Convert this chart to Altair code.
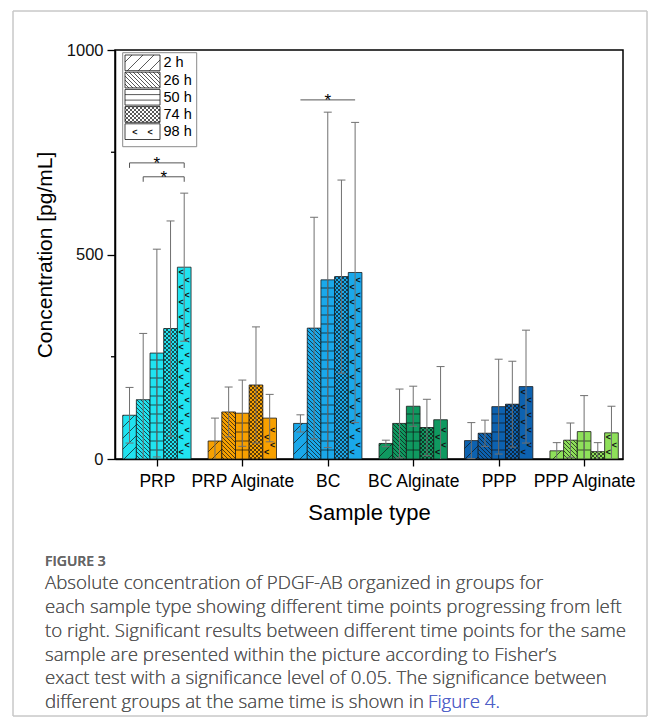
import json
import math
import altair as alt
import pandas as pd

# ---------------- data ----------------
groups = ["PRP", "PRP Alginate", "BC", "BC Alginate", "PPP", "PPP Alginate"]
times = ["2 h", "26 h", "50 h", "74 h", "98 h"]
colors = ["#20E3F0", "#F7A000", "#1AA8EA", "#0F9960", "#0D62B0", "#8EE05A"]

mean_prp = [107, 145, 259, 319, 469]
mean_prp_alg = [44, 115, 112, 181, 100]
mean_bc = [87, 320, 438, 446, 456]
mean_bc_alg = [38, 87, 129, 77, 96]
mean_ppp = [45, 63, 128, 134, 177]
mean_ppp_alg = [20, 46, 67, 18, 64]

sd_prp = [68, 162, 254, 263, 181]
sd_prp_alg = [56, 61, 81, 142, 58]
sd_bc = [21, 271, 410, 236, 367]
sd_bc_alg = [8, 84, 49, 69, 130]
sd_ppp = [44, 32, 116, 105, 138]
sd_ppp_alg = [20, 42, 88, 22, 65]

# significance brackets: group, from time, to time, level
sig_group = ["PRP", "PRP", "BC"]
sig_from = ["2 h", "26 h", "2 h"]
sig_to = ["98 h", "98 h", "98 h"]
sig_level = [724, 690, 878]
sig_ticks = [True, True, False]

caption_head = "FIGURE 3"
caption_lines = [
    "Absolute concentration of PDGF-AB organized in groups for",
    "each sample type showing different time points progressing from left",
    "to right. Significant results between different time points for the same",
    "sample are presented within the picture according to Fisher\u2019s",
    "exact test with a significance level of 0.05. The significance between",
    "different groups at the same time is shown in",
]
caption_link = "Figure 4"

means = [mean_prp, mean_prp_alg, mean_bc, mean_bc_alg, mean_ppp, mean_ppp_alg]
sds = [sd_prp, sd_prp_alg, sd_bc, sd_bc_alg, sd_ppp, sd_ppp_alg]

# ---------------- geometry ----------------
W, H = 508, 409
XMIN, XMAX = -0.49, 5.455
YMAX = 1000
PPX = W / (XMAX - XMIN)
PPY = H / YMAX
BW = 0.16
FONT = "Liberation Sans"
CFONT = "Open Sans"


def dx(px):
    return XMIN + px / PPX


def dy(py):
    return (H - py) / PPY


def xpx(x):
    return (x - XMIN) * PPX


def ypx(v):
    return H - v * PPY


def diag(px0, px1, py0, py1, s, direction):
    segs = []
    if direction == "/":
        c = math.ceil((px0 + py0) / s) * s
        while c <= px1 + py1:
            xa, xb = max(px0, c - py1), min(px1, c - py0)
            if xb - xa > 0.3:
                segs.append((xa, c - xa, xb, c - xb))
            c += s
    else:
        c = math.ceil((px0 - py1) / s) * s
        while c <= px1 - py0:
            xa, xb = max(px0, py0 + c), min(px1, py1 + c)
            if xb - xa > 0.3:
                segs.append((xa, xa - c, xb, xb - c))
            c += s
    return segs


def pattern(j, px0, px1, py0, py1, legend=False):
    segs, marks = [], []
    if j == 0:
        segs = diag(px0, px1, py0, py1, 11, "/")
    elif j == 1:
        segs = diag(px0, px1, py0, py1, 4, "\\")
    elif j == 2:
        y = py1 - (5 if legend else 9)
        while y > py0 + 1:
            segs.append((px0, y, px1, y))
            y -= 5.5 if legend else 9
        if not legend:
            cx = (px0 + px1) / 2
            segs.append((cx, py0, cx, py1))
    elif j == 3:
        segs = diag(px0, px1, py0, py1, 4, "/") + diag(px0, px1, py0, py1, 4, "\\")
    elif j == 4:
        w = px1 - px0
        cols = [px0 + w * 0.28, px0 + w * 0.72]
        for ci, cx in enumerate(cols):
            y = py1 - (7 if ci == 0 else 14.5)
            if legend:
                y = (py0 + py1) / 2
            while y > py0 + 4:
                marks.append((cx, y))
                y -= 15
                if legend:
                    break
    return segs, marks


bar_rows, seg_rows, chev_rows, err_rows, cap_rows = [], [], [], [], []
for i, g in enumerate(groups):
    for j, t in enumerate(times):
        m, s = means[i][j], sds[i][j]
        cx = i + (j - 2) * BW
        x0, x1 = cx - BW / 2, cx + BW / 2
        bar_rows.append(dict(group=g, time=t, x0=x0, x1=x1, mean=m, base=0, color=colors[i]))
        segs, marks = pattern(j, xpx(x0), xpx(x1), ypx(m), ypx(0))
        for (a, b, c, d) in segs:
            seg_rows.append(dict(x=dx(a), y=dy(b), x2=dx(c), y2=dy(d)))
        for (a, b) in marks:
            chev_rows.append(dict(x=dx(a), y=dy(b)))
        lo = max(m - s, 0)
        hi = m + s
        err_rows.append(dict(x=cx, lo=lo, hi=hi))
        capw = 4 / PPX
        cap_rows.append(dict(x=cx - capw, x2=cx + capw, y=hi))
        if m - s > 0:
            cap_rows.append(dict(x=cx - capw, x2=cx + capw, y=m - s))

bars = pd.DataFrame(bar_rows)
segs_df = pd.DataFrame(seg_rows)
chev_df = pd.DataFrame(chev_rows)
err_df = pd.DataFrame(err_rows)
cap_df = pd.DataFrame(cap_rows)

# legend (plot-relative pixel layout converted to data coords)
leg_box = pd.DataFrame([dict(x=dx(7.7), x2=dx(81.7), y=dy(2.7), y2=dy(96.7))])
leg_sw, leg_seg, leg_chev, leg_txt = [], [], [], []
for k, t in enumerate(times):
    top = 5 + 17.2 * k
    bot = top + 15.7
    leg_sw.append(dict(x=dx(10), x2=dx(45), y=dy(top), y2=dy(bot)))
    segs, marks = pattern(k, 10, 45, top, bot, legend=True)
    for (a, b, c, d) in segs:
        leg_seg.append(dict(x=dx(a), y=dy(b), x2=dx(c), y2=dy(d)))
    for (a, b) in marks:
        leg_chev.append(dict(x=dx(a), y=dy(b)))
    leg_txt.append(dict(x=dx(48.5), y=dy((top + bot) / 2 + 0.5), label=t))
leg_sw = pd.DataFrame(leg_sw)
leg_seg = pd.DataFrame(leg_seg)
leg_chev = pd.DataFrame(leg_chev)
leg_txt = pd.DataFrame(leg_txt)

# significance brackets
br_rows, star_rows = [], []
for g, a, b, lvl, tk in zip(sig_group, sig_from, sig_to, sig_level, sig_ticks):
    i = groups.index(g)
    xa = i + (times.index(a) - 2) * BW
    xb = i + (times.index(b) - 2) * BW
    br_rows.append(dict(x=xa, x2=xb, y=lvl, y2=lvl))
    if tk:
        drop = 5 / PPY
        br_rows.append(dict(x=xa, x2=xa, y=lvl, y2=lvl - drop))
        br_rows.append(dict(x=xb, x2=xb, y=lvl, y2=lvl - drop))
    star_rows.append(dict(x=(xa + xb) / 2, y=lvl - 3 / PPY))
br_df = pd.DataFrame(br_rows)
star_df = pd.DataFrame(star_rows)

minor_df = pd.DataFrame({"v": [250, 750]})

xscale = alt.Scale(domain=[XMIN, XMAX], nice=False, zero=False)
yscale = alt.Scale(domain=[0, YMAX], nice=False, zero=True)
label_expr = "%s[datum.value]" % json.dumps(groups)

xaxis = alt.Axis(
    title="Sample type", values=[0, 1, 2, 3, 4, 5], labelExpr=label_expr,
    grid=False, tickSize=7, tickWidth=1.3, tickColor="black", domainColor="black",
    domainWidth=1.5, labelFont=FONT, labelFontSize=17.5, labelColor="black",
    labelPadding=6, labelFlush=False, labelOverlap=False, titleFont=FONT,
    titleFontSize=22, titleFontWeight="normal", titleColor="black", titlePadding=13)
yaxis = alt.Axis(
    title="Concentration [pg/mL]", values=[0, 500, 1000], format="d", grid=False,
    tickSize=8, tickWidth=1.3, tickColor="black", domainColor="black", domainWidth=1.5,
    labelFont=FONT, labelFontSize=16.5, labelColor="#111", labelPadding=4,
    labelFlush=False, labelOverlap=False, titleFont=FONT, titleFontSize=21,
    titleFontWeight="normal", titleColor="black", titleX=-70, titleY=H / 2,
    titleAngle=-90, titleAlign="center", titleBaseline="middle")


def X(f):
    return alt.X(f, type="quantitative", scale=xscale, axis=xaxis)


def Y(f):
    return alt.Y(f, type="quantitative", scale=yscale, axis=yaxis)


bar_layer = alt.Chart(bars).mark_rect(stroke="#1a1a1a", strokeWidth=0.8).encode(
    x=X("x0"), x2="x1", y=Y("mean"), y2="base",
    color=alt.Color("color:N", scale=None),
)

seg_layer = alt.Chart(segs_df).mark_rule(color="#111", strokeWidth=0.7).encode(
    x=X("x"), x2="x2", y=Y("y"), y2="y2")
chev_layer = alt.Chart(chev_df).mark_text(text="<", font=FONT, fontSize=9, fontWeight="bold",
                                          color="#111", baseline="middle").encode(
    x=X("x"), y=Y("y"))
err_layer = alt.Chart(err_df).mark_rule(color="#707070", strokeWidth=1).encode(
    x=X("x"), y=Y("lo"), y2="hi")
cap_layer = alt.Chart(cap_df).mark_rule(color="#707070", strokeWidth=1).encode(
    x=X("x"), x2="x2", y=Y("y"))

minor_layer = alt.Chart(minor_df).mark_rule(color="black", strokeWidth=1.3).encode(
    x=alt.value(-4), x2=alt.value(0), y=Y("v"))

leg_box_layer = alt.Chart(leg_box).mark_rect(fill="white", stroke="#8a8a8a", strokeWidth=1).encode(
    x=X("x"), x2="x2", y=Y("y"), y2="y2")
leg_sw_layer = alt.Chart(leg_sw).mark_rect(fill="white", stroke="#111", strokeWidth=0.8).encode(
    x=X("x"), x2="x2", y=Y("y"), y2="y2")
leg_seg_layer = alt.Chart(leg_seg).mark_rule(color="#111", strokeWidth=0.7).encode(
    x=X("x"), x2="x2", y=Y("y"), y2="y2")
leg_chev_layer = alt.Chart(leg_chev).mark_text(text="<", font=FONT, fontSize=9, fontWeight="bold",
                                               color="#111", baseline="middle").encode(
    x=X("x"), y=Y("y"))
leg_txt_layer = alt.Chart(leg_txt).mark_text(font=FONT, fontSize=14.5, color="black", align="left",
                                             baseline="middle").encode(
    x=X("x"), y=Y("y"), text="label:N")

br_layer = alt.Chart(br_df).mark_rule(color="#555", strokeWidth=1).encode(
    x=X("x"), x2="x2", y=Y("y"), y2="y2")
star_layer = alt.Chart(star_df).mark_text(text="*", font=FONT, fontSize=17, color="black",
                                          baseline="alphabetic", dy=3).encode(
    x=X("x"), y=Y("y"))

# figure card and caption (outside plot area)
card = alt.Chart(minor_df).mark_rect(fill=None, stroke="#c8c8c8", strokeWidth=1).encode(
    x=alt.value(-102), x2=alt.value(532), y=alt.value(-39), y2=alt.value(666))

cap_layers = [
    alt.Chart(minor_df).mark_text(text=caption_head, font=CFONT, fontSize=14,
                                  fontWeight=600, color="#666", align="left",
                                  baseline="middle").encode(x=alt.value(-70), y=alt.value(512))
]
line_y = [533, 557, 581, 605, 628, 652]
for txt, yy in zip(caption_lines, line_y):
    cap_layers.append(
        alt.Chart(minor_df).mark_text(text=txt, font=CFONT, fontSize=18.7, fontWeight=300,
                                      color="#555", align="left", baseline="middle").encode(
            x=alt.value(-70), y=alt.value(yy)))
cap_layers.append(
    alt.Chart(minor_df).mark_text(text=caption_link + ".", font=CFONT, fontSize=18.7,
                                  fontWeight=300, color="#5060C8", align="left",
                                  baseline="middle").encode(
        x=alt.value(313), y=alt.value(652)))

chart = alt.layer(
    bar_layer, seg_layer, chev_layer, err_layer, cap_layer, minor_layer,
    br_layer, star_layer,
    leg_box_layer, leg_sw_layer, leg_seg_layer, leg_chev_layer, leg_txt_layer,
    card, *cap_layers,
).properties(
    width=W, height=H,
    autosize=alt.AutoSizeParams(type="none"),
    padding={"left": 107, "top": 42, "right": 25, "bottom": 260},
).configure_view(stroke="black", strokeWidth=1.5)

chart.save("out.html", embed_options={"renderer": "svg", "actions": False})
